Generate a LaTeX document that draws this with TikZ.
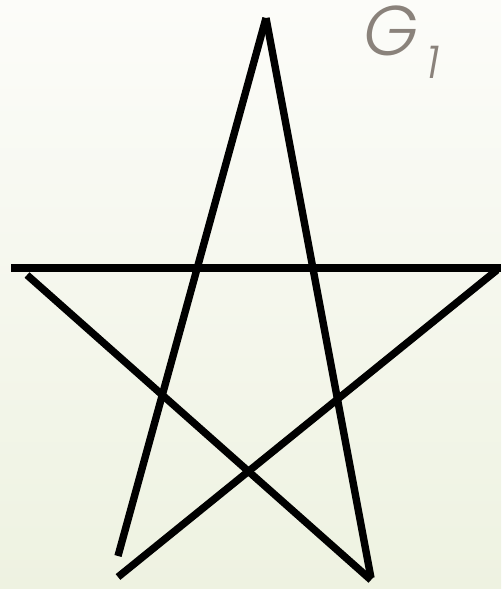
\documentclass[tikz,border=0pt]{standalone}
\usepackage{fontspec}
\newfontfamily\glabelfont{Poppins}[UprightFont=* Light, ItalicFont=* Light Italic]
\definecolor{labelgray}{HTML}{8A827B}
\definecolor{bgtop}{HTML}{FCFCF9}
\definecolor{bgbottom}{HTML}{EEF2E1}
\tikzset{
    starline/.style={line width=4.2pt, black},
    glabel/.style={font=\glabelfont\itshape\fontsize{40}{40}\selectfont, text=labelgray, inner sep=0pt}
}
\begin{document}
\begin{tikzpicture}[x=0.02cm, y=-0.02cm]
        % ── fondo ─────────────────────────────────────────────
        \useasboundingbox (0,0) rectangle (501,589);
        \shade[top color=bgtop, bottom color=bgbottom] (0,0) rectangle (501,589);
        % ── puntas de la estrella ─────────────────────────────
        \coordinate (top) at (266,18);
        \coordinate (hl) at (11,268);
        \coordinate (hr) at (501,268);
        \coordinate (dl) at (27,275);
        \coordinate (dr) at (497,270);
        \coordinate (bl) at (118,556);
        \coordinate (bll) at (118,577);
        \coordinate (br) at (371,578);
        \coordinate (brr) at (371,580);
        % ── cinco trazos ──────────────────────────────────────
        \draw[starline] (hl) -- (hr);
        \draw[starline] (dl) -- (brr);
        \draw[starline] (dr) -- (bll);
        \draw[starline] (top) -- (bl);
        \draw[starline] (top) -- (br);
        % ── etiqueta ──────────────────────────────────────────
        \node[glabel, anchor=base west] (g1) at (363,55) {G\kern0.12em\raisebox{-0.34em}{\fontsize{26}{26}\selectfont 1}};
    \end{tikzpicture}
\end{document}
